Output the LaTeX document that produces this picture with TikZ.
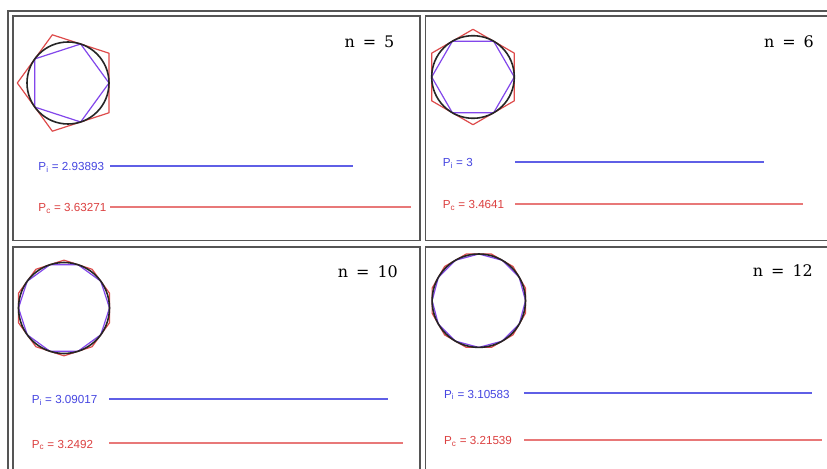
\documentclass[tikz,border=0pt]{standalone}
\usepackage{fontspec}
\setmainfont{Liberation Sans}
\newfontfamily\nfont{DejaVu Serif}
\definecolor{frameg}{RGB}{85,85,85}
\definecolor{blueT}{RGB}{70,70,225}
\definecolor{blueL}{RGB}{95,95,230}
\definecolor{redT}{RGB}{220,65,65}
\definecolor{redL}{RGB}{232,120,120}
\definecolor{redP}{RGB}{222,75,75}
\definecolor{purpP}{RGB}{130,70,235}
\tikzset{
  framebox/.style={draw=frameg,line width=1.3bp},
  inpoly/.style={draw=purpP,line width=1.2bp,line join=round},
  circpoly/.style={draw=redP,line width=1.2bp,line join=round},
  circl/.style={draw=black!85,line width=1.6bp},
  nlabel/.style={font=\nfont\fontsize{16}{18}\selectfont,anchor=base east,inner sep=0pt},
  pilabel/.style={font=\fontsize{11.7}{14}\selectfont,text=blueT,anchor=base west,inner sep=0pt},
  pclabel/.style={font=\fontsize{11.7}{14}\selectfont,text=redT,anchor=base west,inner sep=0pt},
  pibar/.style={draw=blueL,line width=1.9bp},
  pcbar/.style={draw=redL,line width=1.9bp}
}
\newcommand\polyfig[4]{%
  \pgfmathsetmacro\Rc{#3/cos(180/#4)}%
  \pgfmathtruncatemacro\ns{#4+1}%
  \pgfmathsetmacro\off{180/#4}%
  \pgfmathsetmacro\offend{360+180/#4}%
  \draw[circpoly] plot[samples=\ns,domain=\off:\offend] ({#1+\Rc*cos(\x)},{#2+\Rc*sin(\x)}) -- cycle;
  \draw[inpoly] plot[samples=\ns,domain=0:360] ({#1+#3*cos(\x)},{#2+#3*sin(\x)}) -- cycle;
  \draw[circl] (#1,#2) circle[radius=#3];
}
\begin{document}
\begin{tikzpicture}[x=1bp,y=-1bp]
\useasboundingbox (0,0) rectangle (827,469);
\clip (0,0) rectangle (827,469);
\fill[white] (0,0) rectangle (827,469);
% frames
\draw[framebox] (8,11) rectangle (845,490);
\draw[framebox] (13,16) rectangle (420,240.5);
\draw[framebox] (425.5,16) rectangle (845,240.5);
\draw[framebox] (13,247) rectangle (420,490);
\draw[framebox] (425.5,247) rectangle (845,490);
% polygons
\polyfig{68}{83}{41}{5}
\polyfig{473}{77}{41.3}{6}
\polyfig{64}{308}{45.5}{10}
\polyfig{478.8}{300.7}{46.7}{12}
% n labels
\node[nlabel] (n5) at (394.5,47.7) {n\enspace=\enspace5};
\node[nlabel] (n6) at (814,47.7) {n\enspace=\enspace6};
\node[nlabel] (n10) at (398,277.3) {n\enspace=\enspace10};
\node[nlabel] (n12) at (813,276.7) {n\enspace=\enspace12};
% panel 1
\node[pilabel] (pi5) at (38.3,170.4) {P\textsubscript{i} = 2.93893};
\draw[pibar] (110,165.7) -- (353.3,165.7);
\node[pclabel] (pc5) at (38.3,211.7) {P\textsubscript{c} = 3.63271};
\draw[pcbar] (110,207) -- (410.7,207);
% panel 2
\node[pilabel] (pi6) at (442.7,166.4) {P\textsubscript{i} = 3};
\draw[pibar] (515,161.7) -- (764.3,161.7);
\node[pclabel] (pc6) at (442.7,208.4) {P\textsubscript{c} = 3.4641};
\draw[pcbar] (515,203.7) -- (803.3,203.7);
% panel 3
\node[pilabel] (pi10) at (31.7,403.4) {P\textsubscript{i} = 3.09017};
\draw[pibar] (109.3,398.7) -- (388.3,398.7);
\node[pclabel] (pc10) at (31.7,448) {P\textsubscript{c} = 3.2492};
\draw[pcbar] (109.3,443.3) -- (403.3,443.3);
% panel 4
\node[pilabel] (pi12) at (444,398) {P\textsubscript{i} = 3.10583};
\draw[pibar] (524.3,393.3) -- (811.7,393.3);
\node[pclabel] (pc12) at (444,444.7) {P\textsubscript{c} = 3.21539};
\draw[pcbar] (524.3,440) -- (821.7,440);
\end{tikzpicture}
\end{document}
